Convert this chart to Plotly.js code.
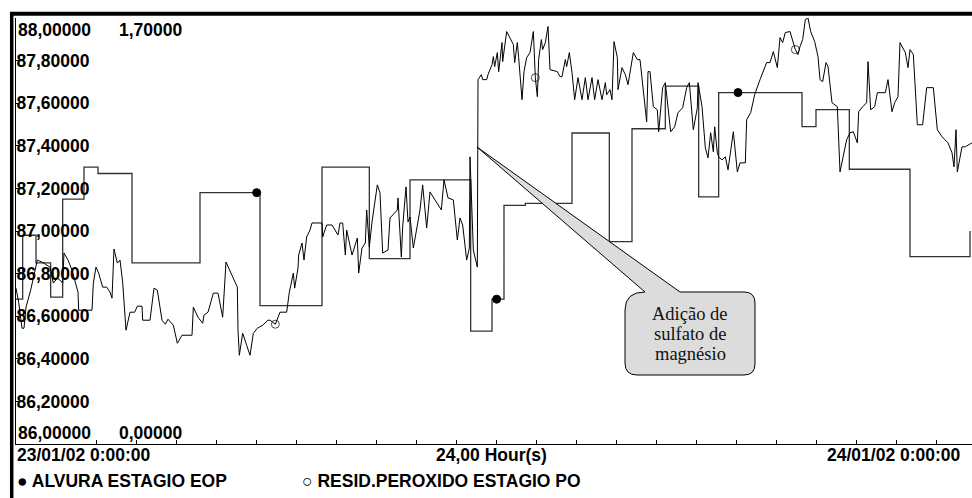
<!DOCTYPE html>
<html><head><meta charset="utf-8">
<script src="https://cdn.plot.ly/plotly-3.0.1.min.js"></script>
<style>html,body{margin:0;padding:0;background:#fff}#chart{width:972px;height:498px}</style>
</head><body><div id="chart"></div>
<script>
// Time in minutes since 23/01/02 0:00:00
const seriesNames = ['ALVURA ESTAGIO EOP', 'RESID.PEROXIDO ESTAGIO PO'];

const alvuraTime = [0,10,30,52,70,102,123,174,276,361,366,459,530,591,682,714,721,732,764,834,890,924,974,1024,1054,1083,1179,1200,1250,1341,1431];
const alvuraValue = [86.68,86.98,86.85,86.69,87.15,87.30,87.27,86.85,87.18,87.18,86.65,87.30,86.87,87.24,86.53,86.68,86.68,87.12,87.13,87.46,86.95,87.48,87.68,87.16,87.65,87.65,87.49,87.57,87.29,86.88,87.00];
const alvuraMarkerTime = [361, 721, 1083];

const residTime = [0,4,9,12,15,18,22,27,32,39,46,51,56,62,66,70,72,78,84,88,93,94,114,116,120,124,130,136,141,144,147,152,156,160,165,171,178,182,189,190,201,207,212,219,224,228,236,
242,249,264,266,273,280,282,288,296,303,310,315,332,333,335,340,346,351,356,362,370,378,381,389,396,406,410,416,418,423,424,429,432,436,441,444,459,
460,466,474,483,486,490,494,496,504,512,514,519,524,526,530,534,542,546,550,558,561,572,573,578,580,585,588,591,596,606,610,616,621,638,642,648,656,662,666,670,676,680,681,686,692,693,
698,700,706,708,714,716,718,722,724,729,730,736,741,746,748,752,754,759,762,766,771,774,776,779,782,784,788,790,794,798,801,812,816,819,824,826,830,834,838,843,849,854,858,864,868,873,879,884,886,891,894,897,902,903,909,914,918,926,932,936,940,946,948,951,956,962,964,968,970,974,978,982,988,993,1000,1006,1010,1016,1022,1023,1029,1034,1038,1042,1046,1048,1052,1054,1059,1064,1068,1076,1082,1086,1094,1096,1102,1108,1116,1126,1131,1136,1142,1146,1150,1154,1161,1169,1173,1176,1180,1184,1188,1192,1198,1203,1206,1210,1215,1218,1224,1232,1236,1240,1246,1251,1256,1262,1264,1270,1276,1278,1282,1288,1292,1304,1308,1314,1318,1323,1326,1334,1338,1341,1346,1352,1360,1366,1376,1382,1389,1398,1404,1407,1410,1412,1416,1419,1424,1434];
const residValue = [0.622,0.566,0.462,0.462,0.546,0.574,0.614,0.674,0.734,0.726,0.714,0.706,0.642,0.662,0.654,0.642,0.762,0.734,0.694,0.654,0.606,0.534,0.534,0.642,0.706,0.682,0.626,0.626,0.606,0.582,0.778,0.722,0.734,0.646,0.454,0.526,0.526,0.55,0.55,0.494,0.494,0.622,0.614,0.494,0.478,0.498,0.474,
0.402,0.434,0.434,0.546,0.506,0.482,0.514,0.526,0.602,0.602,0.506,0.726,0.626,0.454,0.354,0.442,0.394,0.354,0.442,0.462,0.474,0.494,0.494,0.478,0.526,0.526,0.606,0.682,0.622,0.702,0.754,0.802,0.734,0.826,0.854,0.882,0.882,
0.826,0.874,0.874,0.834,0.882,0.882,0.754,0.854,0.754,0.822,0.682,0.782,0.802,0.934,0.786,0.886,1.034,1.002,0.762,0.774,0.902,0.934,0.982,0.746,0.866,1.026,0.886,0.906,0.782,0.934,1.034,0.862,1.006,0.934,1.054,0.982,0.974,0.814,0.902,0.874,0.734,0.782,1.146,0.774,0.706,1.454,
1.474,1.454,1.454,1.474,1.514,1.546,1.506,1.562,1.486,1.602,1.526,1.646,1.622,1.594,1.522,1.602,1.542,1.374,1.486,1.542,1.562,1.614,1.646,1.462,1.386,1.534,1.614,1.574,1.602,1.666,1.494,1.486,1.466,1.466,1.534,1.506,1.562,1.482,1.374,1.462,1.374,1.462,1.374,1.462,1.374,1.454,1.374,1.442,1.394,1.414,1.374,1.606,1.542,1.414,1.502,1.474,1.434,1.562,1.534,1.534,1.434,1.286,1.486,1.486,1.346,1.334,1.246,1.374,1.422,1.442,1.346,1.246,1.266,1.322,1.342,1.422,1.442,1.254,1.342,1.442,1.346,1.182,1.142,1.242,1.166,1.266,1.162,1.146,1.134,1.146,1.094,1.246,1.086,1.122,1.122,1.294,1.322,1.394,1.454,1.522,1.522,1.566,1.502,1.622,1.602,1.642,1.646,1.574,1.554,1.586,1.614,1.694,1.700,1.646,1.606,1.546,1.454,1.446,1.522,1.506,1.362,1.346,1.086,1.134,1.214,1.242,1.246,1.202,1.326,1.346,1.362,1.526,1.334,1.346,1.402,1.402,1.454,1.326,1.362,1.386,1.602,1.562,1.502,1.574,1.554,1.274,1.274,1.422,1.422,1.254,1.226,1.202,1.162,1.106,1.254,1.086,1.146,1.186,1.186,1.202];
const residMarkerTime = [389, 779, 1169];

const leftTicks = [86.0,86.2,86.4,86.6,86.8,87.0,87.2,87.4,87.6,87.8,88.0];
const rightTicks = [0.0, 1.7];
const xLabels = ['23/01/02 0:00:00', '24,00 Hour(s)', '24/01/02 0:00:00'];
const calloutLines = ['Adição de', 'sulfato de', 'magnésio'];

// ---- layout geometry (pixels) ----
const W = 972, H = 498, L = 16, T = 18, B = 54, R = 0;
const PW = W - L - R, PH = H - T - B;
const px = x => (x - L) / PW;
const py = y => (H - B - y) / PH;
const P = (x, y) => px(x).toFixed(5) + ',' + py(y).toFixed(5);
const fmt = (v, d) => v.toFixed(d).replace('.', ',');

const FONT = 'Liberation Sans, Arial, sans-serif';
const sizesFor = (t, m) => t.map(v => m.includes(v) ? 8 : 0);

const traces = [
  {
    x: alvuraTime, y: alvuraValue, name: seriesNames[0], type: 'scatter', mode: 'lines+markers',
    line: {shape: 'hv', color: '#333', width: 1.3},
    marker: {symbol: 'circle', color: '#000', opacity: 1, size: sizesFor(alvuraTime, alvuraMarkerTime), line: {width: 1, color: '#000'}},
    yaxis: 'y', showlegend: false, hoverinfo: 'skip'
  },
  {
    x: residTime, y: residValue, name: seriesNames[1], type: 'scatter', mode: 'lines+markers',
    line: {color: '#000', width: 1},
    marker: {symbol: 'circle-open', color: '#000', size: sizesFor(residTime, residMarkerTime), line: {width: 1, color: '#000'}},
    yaxis: 'y2', showlegend: false, hoverinfo: 'skip'
  }
];

const tickFont = {family: FONT, size: 17.5, weight: 700, color: '#000'};

const annotations = [];
annotations.push({xref:'paper', yref:'paper', x: px(16), y: py(30), xanchor:'left', yanchor:'middle', text: fmt(leftTicks[leftTicks.length-1],5), showarrow:false, font: tickFont});
annotations.push({xref:'paper', yref:'paper', x: px(16), y: py(433), xanchor:'left', yanchor:'middle', text: fmt(leftTicks[0],5), showarrow:false, font: tickFont});
annotations.push({xref:'paper', yref:'paper', x: px(117), y: py(30), xanchor:'left', yanchor:'middle', text: fmt(rightTicks[1],5), showarrow:false, font: tickFont});
annotations.push({xref:'paper', yref:'paper', x: px(117), y: py(433), xanchor:'left', yanchor:'middle', text: fmt(rightTicks[0],5), showarrow:false, font: tickFont});
annotations.push({xref:'paper', yref:'paper', x: px(15), y: py(455), xanchor:'left', yanchor:'middle', text: xLabels[0], showarrow:false, font: tickFont});
annotations.push({xref:'paper', yref:'paper', x: px(491), y: py(455), xanchor:'center', yanchor:'middle', text: xLabels[1], showarrow:false, font: tickFont});
annotations.push({xref:'paper', yref:'paper', x: px(963), y: py(455), xanchor:'right', yanchor:'middle', text: xLabels[2], showarrow:false, font: tickFont});
annotations.push({xref:'paper', yref:'paper', x: px(15), y: py(481), xanchor:'left', yanchor:'middle', text: '● ' + seriesNames[0], showarrow:false, font: tickFont});
annotations.push({xref:'paper', yref:'paper', x: px(300), y: py(481), xanchor:'left', yanchor:'middle', text: '○ ' + seriesNames[1], showarrow:false, font: tickFont});
const cY = [314, 334, 354];
calloutLines.forEach((t, i) => annotations.push({xref:'paper', yref:'paper', x: px(690), y: py(cY[i]), xanchor:'center', yanchor:'middle', text: t, showarrow:false, font: {family: 'Liberation Serif, Times New Roman, serif', size: 18.5, color: '#111'}}));

const calloutPath = 'M' + P(645,292) + ' L' + P(477,147) + ' L' + P(680,292) + ' L' + P(744,292) +
  ' Q' + P(755,292) + ' ' + P(755,303) + ' L' + P(755,364) + ' Q' + P(755,375) + ' ' + P(744,375) +
  ' L' + P(637,375) + ' Q' + P(625,375) + ' ' + P(625,363) + ' L' + P(625,310) + ' Q' + P(625,292) + ' ' + P(645,292) + ' Z';

const shapes = [
  {type:'path', xref:'paper', yref:'paper', path: calloutPath, fillcolor:'#DCDCDC', line:{color:'#000', width:1}, layer:'above'},
  {type:'line', xref:'paper', yref:'paper', x0: px(10), x1: px(972), y0: py(13.7), y1: py(13.7), line:{color:'#000', width:4}},
  {type:'line', xref:'paper', yref:'paper', x0: px(11.7), x1: px(11.7), y0: py(12), y1: py(498), line:{color:'#000', width:3.5}}
];

const layout = {
  width: W, height: H,
  margin: {l: L, r: R, t: T, b: B, pad: 0},
  paper_bgcolor: '#fff', plot_bgcolor: '#fff',
  separators: ',.',
  showlegend: false,
  xaxis: {range: [0, 1434], tick0: 0, dtick: 60, ticks: 'inside', ticklen: 4, tickcolor: '#000', tickwidth: 1,
          showticklabels: false, showline: true, linecolor: '#000', linewidth: 1, showgrid: false, zeroline: false, fixedrange: true},
  yaxis: {range: [86, 88], tickvals: leftTicks.slice(1, -1), tickformat: '.5f', ticks: 'inside', ticklen: 3, tickcolor: '#000',
          ticklabelposition: 'inside', ticklabelstandoff: -2, tickfont: tickFont, showline: true, linecolor: '#000', linewidth: 1,
          showgrid: false, zeroline: false, fixedrange: true},
  yaxis2: {range: [0, 1.7], overlaying: 'y', side: 'right', visible: false, fixedrange: true},
  annotations: annotations,
  shapes: shapes
};

Plotly.newPlot('chart', traces, layout, {staticPlot: true, displayModeBar: false});
</script>
</body></html>
